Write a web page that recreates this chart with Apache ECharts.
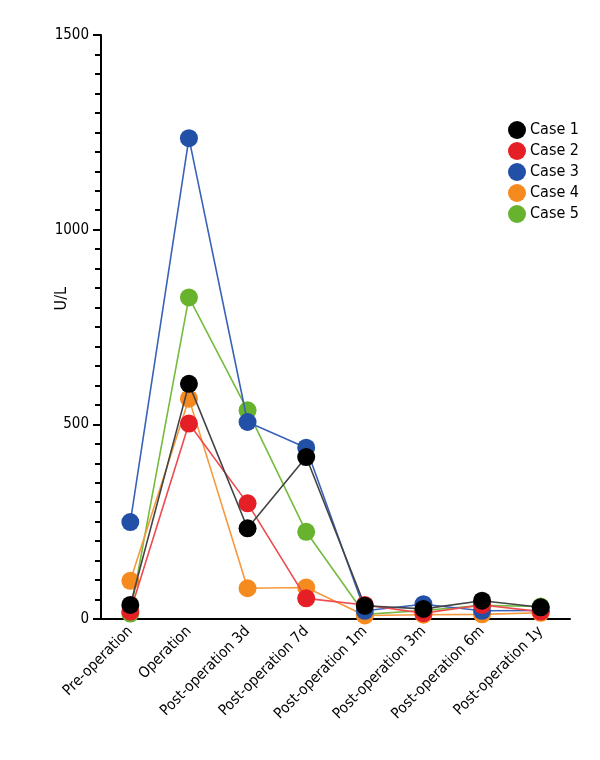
<!DOCTYPE html>
<html>
<head>
<meta charset="utf-8">
<script src="https://cdn.jsdelivr.net/npm/echarts@6/dist/echarts.min.js"></script>
<style>html,body{margin:0;padding:0;background:#fff}#c{width:600px;height:760px}</style>
</head>
<body>
<div id="c"></div>
<script>
const categories = ['Pre-operation','Operation','Post-operation 3d','Post-operation 7d','Post-operation 1m','Post-operation 3m','Post-operation 6m','Post-operation 1y'];
const seriesNames = ['Case 1','Case 2','Case 3','Case 4','Case 5'];
const case1 = [36, 604, 233, 416, 34, 26, 47, 30];
const case2 = [19, 502, 297, 53, 36, 15, 36, 19];
const case3 = [249, 1235, 506, 440, 21, 38, 21, 22];
const case4 = [98, 566, 79, 81, 9, 11, 12, 16];
const case5 = [14, 826, 536, 224, 12, 22, 35, 32];
const yTicks = [0, 500, 1000, 1500];
const yName = 'U/L';

const markerColors = ['#000000','#e51f26','#2350a7','#f58a1f','#67b32e'];
const lineColors = ['#444444','#ee4a50','#3a62b8','#f7983c','#74bb3e'];
const allData = [case1, case2, case3, case4, case5];
const FONT = "'DejaVu Sans Condensed', 'Liberation Sans Narrow', 'Liberation Sans', sans-serif";

const series = [];
for (let i = allData.length - 1; i >= 0; i--) {
  series.push({
    name: seriesNames[i],
    type: 'line',
    data: allData[i],
    symbol: 'circle',
    symbolSize: 18,
    itemStyle: { color: markerColors[i] },
    lineStyle: { color: lineColors[i], width: 1.6 },
    z: 10 - i
  });
}

const chart = echarts.init(document.getElementById('c'), null, { renderer: 'canvas' });
chart.setOption({
  animation: false,
  backgroundColor: '#ffffff',
  textStyle: { fontFamily: FONT },
  grid: { left: 101, right: 30, top: 35, bottom: 141 },
  graphic: [{
    type: 'text',
    left: 54,
    top: 287,
    rotation: Math.PI / 2,
    style: { text: yName, fill: '#000', font: '16px ' + FONT }
  }],
  legend: {
    data: seriesNames.map((n, i) => ({ name: n, icon: 'circle', itemStyle: { color: markerColors[i] } })),
    orient: 'vertical',
    left: 503,
    top: 116,
    itemWidth: 18,
    itemHeight: 18,
    itemGap: 3,
    textStyle: { fontFamily: FONT, fontSize: 16, color: '#000', padding: [0, 0, 0, -1] }
  },
  xAxis: {
    type: 'category',
    data: categories,
    boundaryGap: true,
    axisLine: { lineStyle: { color: '#000', width: 2 } },
    axisTick: { alignWithLabel: true, length: 6, lineStyle: { color: '#000', width: 2 } },
    axisLabel: { rotate: 45, color: '#000', fontSize: 15, fontFamily: FONT, margin: 10 }
  },
  yAxis: {
    type: 'value',
    min: yTicks[0],
    max: yTicks[yTicks.length - 1],
    interval: 500,
    axisLine: { show: true, lineStyle: { color: '#000', width: 2 } },
    axisTick: { show: true, length: 8, lineStyle: { color: '#000', width: 2 } },
    minorTick: { show: true, splitNumber: 10, length: 6, lineStyle: { color: '#000', width: 2 } },
    splitLine: { show: false },
    axisLabel: { color: '#000', fontSize: 15, fontFamily: FONT, margin: 12, formatter: v => String(v) }
  },
  series: series
});
</script>
</body>
</html>
